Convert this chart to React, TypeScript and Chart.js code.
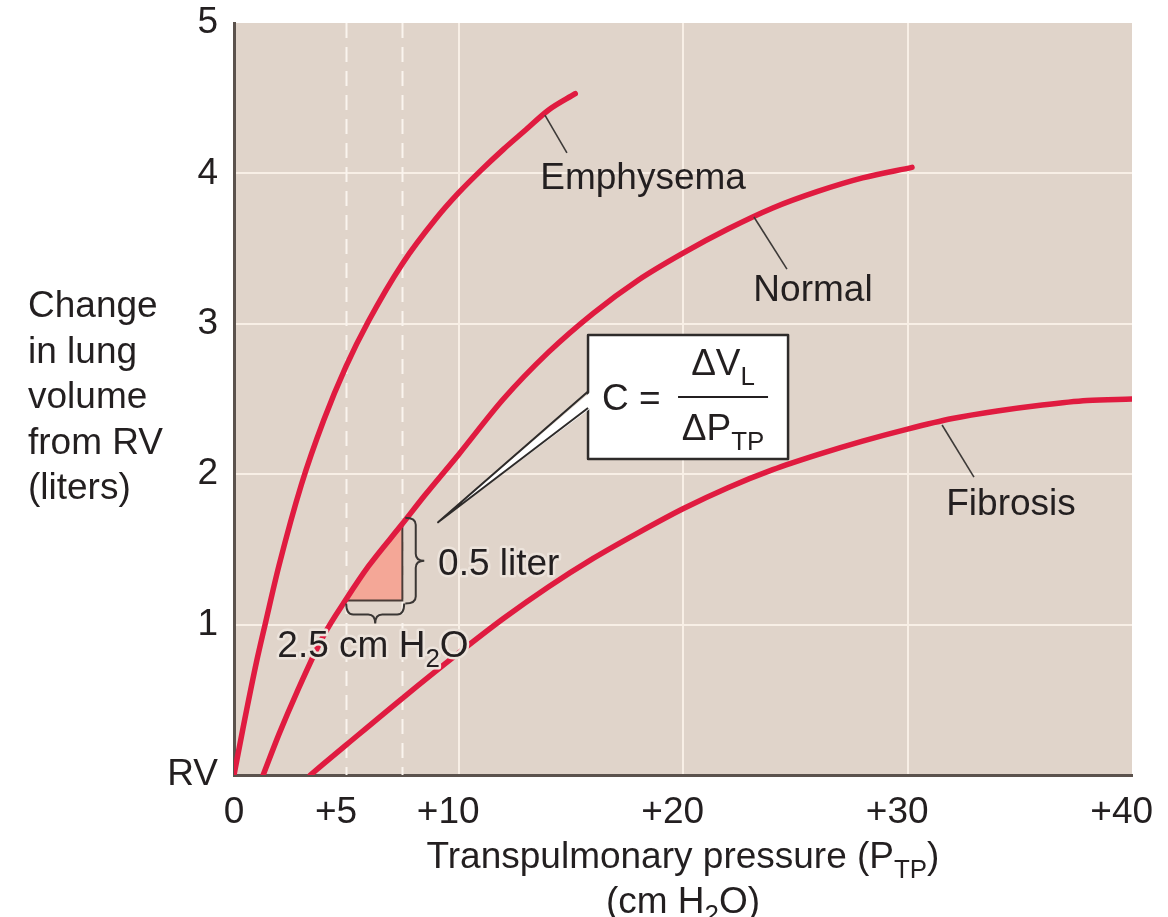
import { useEffect, useRef } from 'react';
import { Chart, registerables } from 'chart.js';

Chart.register(...registerables);

// ---------- data ----------
const xTicks = [0, 5, 10, 20, 30, 40];
const xTickLabels = ['0', '+5  ', '+10  ', '+20  ', '+30  ', '+40  '];
const yTicks = [0, 1, 2, 3, 4, 5];
const yTickLabels = ['RV', '1', '2', '3', '4', '5'];

const curveNames = ['Emphysema', 'Normal', 'Fibrosis'];

const emphysemaX = [0, 0.4, 1, 1.4, 2, 3, 4, 5, 6, 7.5, 9, 10, 11, 12, 13, 14, 15.2];
const emphysemaY = [0, 0.31, 0.75, 1.01, 1.39, 1.93, 2.36, 2.72, 3.02, 3.4, 3.7, 3.87, 4.02, 4.16, 4.29, 4.42, 4.53];

const normalX = [1.3, 2, 2.8, 4, 5, 6, 7.5, 8.5, 10, 12, 14, 16, 18, 20, 22, 24, 26, 28, 30.2];
const normalY = [0, 0.27, 0.55, 0.93, 1.17, 1.39, 1.67, 1.86, 2.13, 2.5, 2.81, 3.07, 3.29, 3.47, 3.63, 3.77, 3.88, 3.97, 4.04];

const fibrosisX = [3.4, 5, 7.5, 10, 12, 14, 16, 18, 20, 22, 24, 26, 28, 30, 32, 34, 36, 38, 40];
const fibrosisY = [0, 0.2, 0.51, 0.81, 1.04, 1.25, 1.44, 1.61, 1.77, 1.91, 2.03, 2.13, 2.22, 2.3, 2.37, 2.42, 2.46, 2.49, 2.5];

const dashedX = [5, 7.5];
const triangleX = [5, 7.5];
const triangleY = [1.16, 1.66];

const yTitleLines = ['Change', 'in lung', 'volume', 'from RV', '(liters)'];

// ---------- styles ----------
const FONT = '"Liberation Sans", Arial, Helvetica, sans-serif';
const FS = 37;
const TEXT = '#231f20';
const BG = '#e0d4ca';
const GRID = '#f8efe6';
const DASH = '#faf4ee';
const AXIS = '#5b524d';
const RED = '#e01b40';
const TRI = '#f4a797';
const LEADER = '#3d3a38';

// annotation anchors (data units)
const curveLabels = [
  { text: 'Emphysema', x: 18.22, y: 3.896, lx1: 13.85, ly1: 4.388, lx2: 14.83, ly2: 4.136 },
  { text: 'Normal', x: 25.79, y: 3.152, lx1: 23.16, ly1: 3.71, lx2: 24.63, ly2: 3.364 },
  { text: 'Fibrosis', x: 34.61, y: 1.729, lx1: 31.54, ly1: 2.327, lx2: 32.96, ly2: 1.981 },
];
const calloutBox = { x1: 15.77, y1: 2.926, x2: 24.68, y2: 2.101, tailY1: 2.55, tailY2: 2.44, tipX: 9.09, tipY: 1.68 };
const volumeBrace = { x: 7.63, y1: 1.71, y2: 1.14, depth: 19 };
const pressureBrace = { x1: 5.0, x2: 7.58, y: 1.14, depth: 20 };
const volumeText = { x: 9.09, y: 1.33 };
const pressureText = { x: 6.19, y: 0.785 };

type Seg = { t: string; sub?: boolean };

function drawRich(
  ctx: CanvasRenderingContext2D,
  segs: Seg[],
  x: number,
  y: number,
  size: number,
  align: 'left' | 'center' | 'right',
  halo?: string
) {
  const subSize = size * 0.7;
  const widths = segs.map((s) => {
    ctx.font = `${s.sub ? subSize : size}px ${FONT}`;
    return ctx.measureText(s.t).width;
  });
  const total = widths.reduce((a, b) => a + b, 0);
  const start = align === 'left' ? x : align === 'center' ? x - total / 2 : x - total;
  ctx.textAlign = 'left';
  ctx.textBaseline = 'alphabetic';
  const passes = halo ? ['halo', 'fill'] : ['fill'];
  for (const pass of passes) {
    let cx = start;
    segs.forEach((s, i) => {
      ctx.font = `${s.sub ? subSize : size}px ${FONT}`;
      const yy = s.sub ? y + size * 0.26 : y;
      if (pass === 'halo') {
        ctx.strokeStyle = halo!;
        ctx.lineWidth = 5;
        ctx.lineJoin = 'round';
        ctx.strokeText(s.t, cx, yy);
      } else {
        ctx.fillStyle = TEXT;
        ctx.fillText(s.t, cx, yy);
      }
      cx += widths[i];
    });
  }
}

const backgroundPlugin = {
  id: 'bgPlot',
  beforeDraw(chart: any) {
    const { ctx, chartArea: a } = chart;
    ctx.save();
    ctx.fillStyle = '#ffffff';
    ctx.fillRect(0, 0, chart.width, chart.height);
    ctx.fillStyle = BG;
    ctx.fillRect(a.left, a.top, a.right - a.left, a.bottom - a.top);
    ctx.restore();
  },
  beforeDatasetsDraw(chart: any) {
    const { ctx, chartArea: a, scales } = chart;
    const xs = scales.x;
    const ys = scales.y;
    ctx.save();
    // dashed reference lines
    ctx.strokeStyle = DASH;
    ctx.lineWidth = 2;
    ctx.setLineDash([15, 9]);
    dashedX.forEach((v) => {
      const px = Math.round(xs.getPixelForValue(v)) + 0.5;
      ctx.beginPath();
      ctx.moveTo(px, a.top);
      ctx.lineTo(px, a.bottom);
      ctx.stroke();
    });
    ctx.setLineDash([]);
    // compliance triangle
    const x1 = xs.getPixelForValue(triangleX[0]);
    const x2 = xs.getPixelForValue(triangleX[1]);
    const y1 = ys.getPixelForValue(triangleY[0]);
    const y2 = ys.getPixelForValue(triangleY[1]);
    ctx.beginPath();
    ctx.moveTo(x1, y1);
    ctx.lineTo(x2, y1);
    ctx.lineTo(x2, y2);
    ctx.closePath();
    ctx.fillStyle = TRI;
    ctx.fill();
    ctx.beginPath();
    ctx.moveTo(x1, y1);
    ctx.lineTo(x2, y1);
    ctx.lineTo(x2, y2);
    ctx.strokeStyle = '#4a3c37';
    ctx.lineWidth = 2;
    ctx.stroke();
    ctx.restore();
  },
  afterDatasetsDraw(chart: any) {
    const { ctx, scales } = chart;
    const xs = scales.x;
    const ys = scales.y;
    const X = (v: number) => xs.getPixelForValue(v);
    const Y = (v: number) => ys.getPixelForValue(v);
    ctx.save();

    // curve labels with leader lines
    curveLabels.forEach((l) => {
      ctx.strokeStyle = LEADER;
      ctx.lineWidth = 1.6;
      ctx.beginPath();
      ctx.moveTo(X(l.lx1), Y(l.ly1));
      ctx.lineTo(X(l.lx2), Y(l.ly2));
      ctx.stroke();
      drawRich(ctx, [{ t: l.text }], X(l.x), Y(l.y), FS, 'center');
    });

    // volume brace (pointing right)
    {
      const bx = X(volumeBrace.x);
      const t = Y(volumeBrace.y1);
      const b = Y(volumeBrace.y2);
      const d = volumeBrace.depth;
      const m = (t + b) / 2;
      const r = 7;
      const h = d * 0.55;
      ctx.strokeStyle = '#3a3634';
      ctx.lineWidth = 2;
      ctx.beginPath();
      ctx.moveTo(bx, t);
      ctx.quadraticCurveTo(bx + h, t, bx + h, t + r);
      ctx.lineTo(bx + h, m - r);
      ctx.quadraticCurveTo(bx + h, m, bx + d, m);
      ctx.quadraticCurveTo(bx + h, m, bx + h, m + r);
      ctx.lineTo(bx + h, b - r);
      ctx.quadraticCurveTo(bx + h, b, bx, b);
      ctx.stroke();
    }
    // pressure brace (pointing down)
    {
      const l = X(pressureBrace.x1);
      const rgt = X(pressureBrace.x2);
      const by = Y(pressureBrace.y);
      const d = pressureBrace.depth;
      const m = (l + rgt) / 2;
      const r = 7;
      const h = d * 0.55;
      ctx.beginPath();
      ctx.moveTo(l, by);
      ctx.quadraticCurveTo(l, by + h, l + r, by + h);
      ctx.lineTo(m - r, by + h);
      ctx.quadraticCurveTo(m, by + h, m, by + d);
      ctx.quadraticCurveTo(m, by + h, m + r, by + h);
      ctx.lineTo(rgt - r, by + h);
      ctx.quadraticCurveTo(rgt, by + h, rgt, by);
      ctx.stroke();
    }
    drawRich(ctx, [{ t: '0.5 liter' }], X(volumeText.x), Y(volumeText.y), FS, 'left', '#ece3db');
    drawRich(
      ctx,
      [{ t: '2.5 cm H' }, { t: '2', sub: true }, { t: 'O' }],
      X(pressureText.x),
      Y(pressureText.y),
      FS,
      'center',
      '#ece3db'
    );

    // callout box
    {
      const bx1 = X(calloutBox.x1);
      const by1 = Y(calloutBox.y1);
      const bx2 = X(calloutBox.x2);
      const by2 = Y(calloutBox.y2);
      const ty1 = Y(calloutBox.tailY1);
      const ty2 = Y(calloutBox.tailY2);
      const tx = X(calloutBox.tipX);
      const tyy = Y(calloutBox.tipY);
      ctx.fillStyle = '#ffffff';
      ctx.strokeStyle = '#2e2b2a';
      ctx.lineWidth = 2.5;
      ctx.fillRect(bx1, by1, bx2 - bx1, by2 - by1);
      ctx.strokeRect(bx1, by1, bx2 - bx1, by2 - by1);
      // tail
      ctx.beginPath();
      ctx.moveTo(bx1 + 3, ty1);
      ctx.lineTo(tx, tyy);
      ctx.lineTo(bx1 + 3, ty2);
      ctx.closePath();
      ctx.fill();
      ctx.lineWidth = 2;
      ctx.beginPath();
      ctx.moveTo(bx1, ty1);
      ctx.lineTo(tx, tyy);
      ctx.lineTo(bx1, ty2);
      ctx.stroke();

      const midY = (by1 + by2) / 2;
      drawRich(ctx, [{ t: 'C =' }], bx1 + 14, midY + 13, FS, 'left');
      const fx1 = bx1 + 90;
      const fx2 = bx1 + 180;
      ctx.strokeStyle = TEXT;
      ctx.lineWidth = 2;
      ctx.beginPath();
      ctx.moveTo(fx1, midY);
      ctx.lineTo(fx2, midY);
      ctx.stroke();
      const fc = (fx1 + fx2) / 2;
      drawRich(ctx, [{ t: '\u0394V' }, { t: 'L', sub: true }], fc, midY - 22, FS, 'center');
      drawRich(ctx, [{ t: '\u0394P' }, { t: 'TP', sub: true }], fc, midY + 43, FS, 'center');
    }
    ctx.restore();
  },
  afterDraw(chart: any) {
    const { ctx, chartArea: a } = chart;
    ctx.save();
    yTitleLines.forEach((t, i) => {
      drawRich(ctx, [{ t }], 28, 317 + i * 45.6, FS, 'left');
    });
    const cx = (a.left + a.right) / 2;
    drawRich(ctx, [{ t: 'Transpulmonary pressure (P' }, { t: 'TP', sub: true }, { t: ')' }], cx, a.bottom + 93, FS, 'center');
    drawRich(ctx, [{ t: '(cm H' }, { t: '2', sub: true }, { t: 'O)' }], cx, a.bottom + 138, FS, 'center');
    ctx.restore();
  },
};

function toPoints(xs: number[], ys: number[]) {
  return xs.map((x, i) => ({ x, y: ys[i] }));
}

export default function App() {
  const ref = useRef<HTMLCanvasElement>(null);
  useEffect(() => {
    document.body.style.margin = '0';
    const series = [
      toPoints(emphysemaX, emphysemaY),
      toPoints(normalX, normalY),
      toPoints(fibrosisX, fibrosisY),
    ];
    const chart = new Chart(ref.current as HTMLCanvasElement, {
      type: 'line',
      data: {
        datasets: series.map((data, i) => ({
          label: curveNames[i],
          data,
          borderColor: RED,
          borderWidth: 5.5,
          pointRadius: 0,
          cubicInterpolationMode: 'monotone' as const,
          borderCapStyle: 'round' as const,
          fill: false,
        })),
      },
      options: {
        animation: false,
        responsive: false,
        devicePixelRatio: 1,
        events: [],
        layout: { padding: { left: 0, right: 36, top: 23, bottom: 0 } },
        plugins: { legend: { display: false }, tooltip: { enabled: false }, title: { display: false } },
        scales: {
          x: {
            type: 'linear',
            min: 0,
            max: 40,
            afterBuildTicks: (s: any) => {
              s.ticks = xTicks.map((v) => ({ value: v }));
            },
            afterFit: (s: any) => {
              s.height = 142;
              s.paddingLeft = 0;
              s.paddingRight = 0;
            },
            grid: {
              drawTicks: false,
              lineWidth: 2,
              color: (c: any) => (c.tick && [10, 20, 30].includes(c.tick.value) ? GRID : 'rgba(0,0,0,0)'),
            },
            border: { display: true, color: AXIS, width: 3 },
            ticks: {
              autoSkip: false,
              maxRotation: 0,
              padding: 16,
              color: TEXT,
              font: { family: FONT, size: FS },
              callback: (v: any) => xTickLabels[xTicks.indexOf(Number(v))] ?? '',
            },
          },
          y: {
            type: 'linear',
            min: 0,
            max: 5,
            afterBuildTicks: (s: any) => {
              s.ticks = yTicks.map((v) => ({ value: v }));
            },
            afterFit: (s: any) => {
              s.width = 234;
              s.paddingTop = 0;
              s.paddingBottom = 0;
            },
            grid: {
              drawTicks: false,
              lineWidth: 2,
              color: (c: any) => (c.tick && c.tick.value > 0 && c.tick.value < 5 ? GRID : 'rgba(0,0,0,0)'),
            },
            border: { display: true, color: AXIS, width: 3 },
            ticks: {
              padding: 16,
              color: TEXT,
              font: { family: FONT, size: FS },
              callback: (v: any) => yTickLabels[yTicks.indexOf(Number(v))] ?? '',
            },
          },
        },
      },
      plugins: [backgroundPlugin],
    } as any);
    return () => chart.destroy();
  }, []);
  return (
    <div style={{ width: 1168, height: 917, background: '#fff' }}>
      <canvas ref={ref} width={1168} height={917} style={{ display: 'block' }} />
    </div>
  );
}
